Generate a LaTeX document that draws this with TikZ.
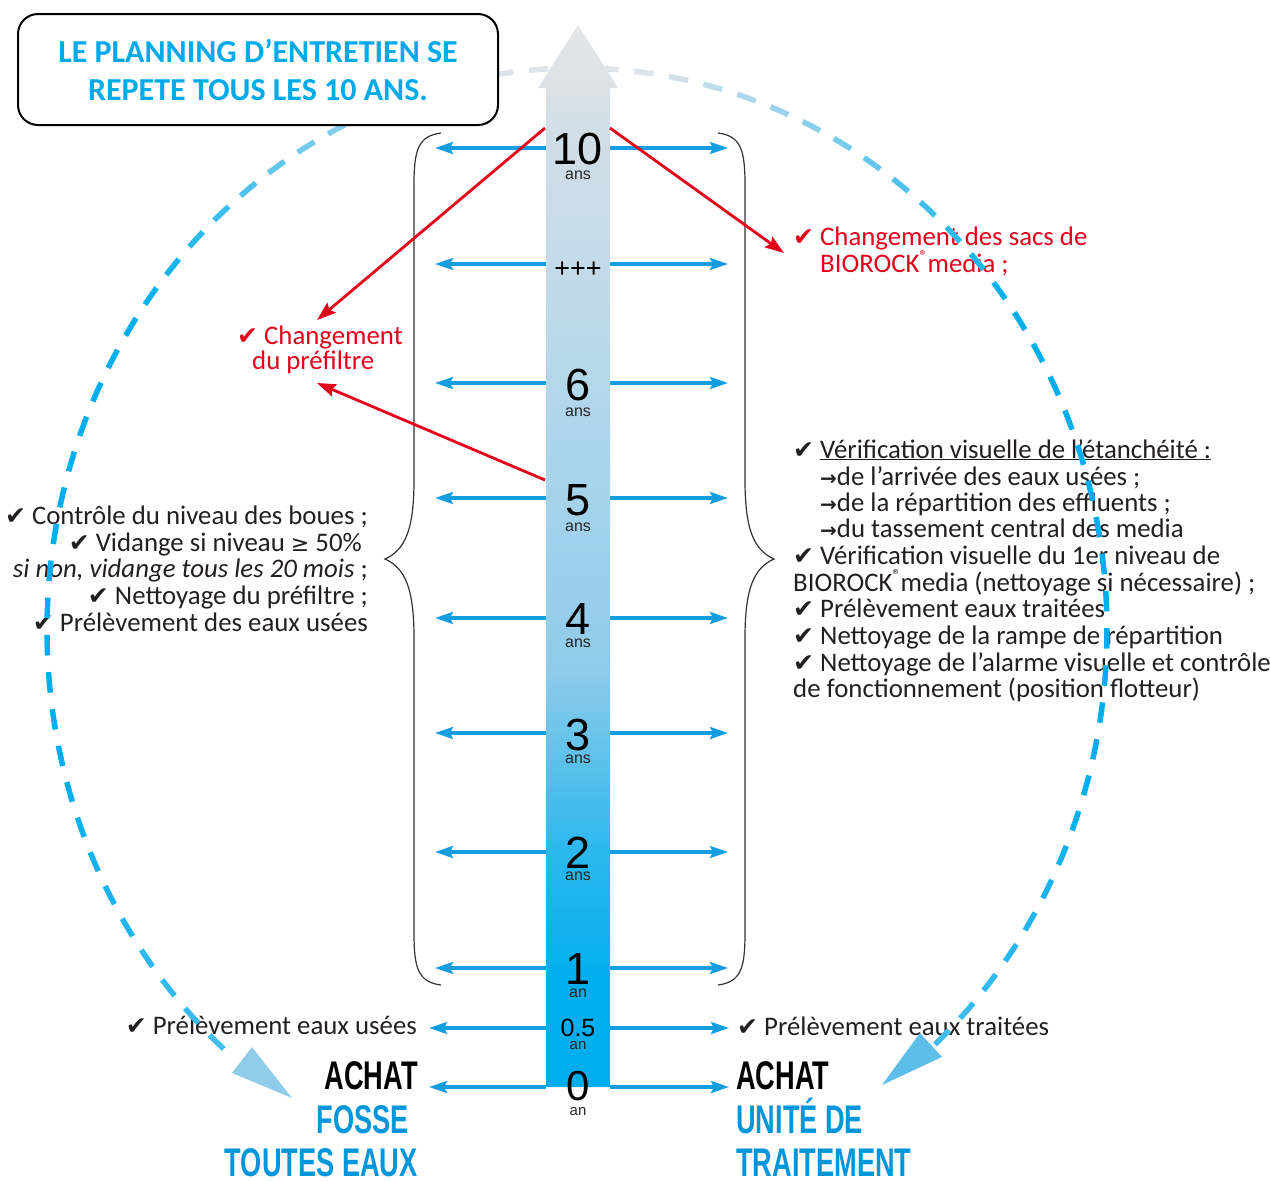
\documentclass[tikz,border=0pt]{standalone}
\usepackage{fontspec}
\setmainfont{Carlito}
\newfontfamily\dv{DejaVu Sans}
\newfontfamily\hv{Liberation Sans}
\newfontfamily\cond[FakeStretch=0.68]{Liberation Sans Bold}
\usetikzlibrary{arrows.meta}
\definecolor{hblue}{RGB}{20,158,224}
\definecolor{rred}{RGB}{226,0,26}
\definecolor{tblue}{RGB}{0,150,219}
\definecolor{ttl}{RGB}{0,170,233}
\definecolor{txtc}{RGB}{35,31,32}
\definecolor{cy}{RGB}{0,174,239}
\definecolor{gr}{RGB}{222,228,233}
\definecolor{lb}{RGB}{140,203,234}
\definecolor{lhead}{RGB}{143,204,234}
\definecolor{rhead}{RGB}{93,190,234}
\definecolor{s0}{RGB}{0,174,239}
\definecolor{s1}{RGB}{45,184,237}
\definecolor{s2}{RGB}{142,203,234}
\definecolor{s3}{RGB}{165,211,236}
\definecolor{s4}{RGB}{195,219,233}
\definecolor{s5}{RGB}{207,221,231}
\definecolor{s6}{RGB}{229,230,231}
\pgfdeclareverticalshading{barsh}{100bp}{color(0bp)=(s0); color(25bp)=(s0); color(30bp)=(s0); color(36.2bp)=(s1); color(44.6bp)=(s2); color(52.6bp)=(s3); color(63.5bp)=(s4); color(69.1bp)=(s5); color(75bp)=(s6); color(100bp)=(s6)}
\newcommand\chk{{\dv\fontsize{25}{25}\selectfont ✔}}
\newcommand\arr{{\dv\bfseries\fontsize{20}{20}\selectfont →}}
\newcommand\regm{\raisebox{0.38em}{\fontsize{16}{16}\selectfont ®}}
\begin{document}
\begin{tikzpicture}[x=1pt,y=-1pt,
  txt/.style={inner sep=0pt, text=txtc, font=\fontsize{26.8}{28}\selectfont},
  redtxt/.style={inner sep=0pt, text=rred, font=\fontsize{26.8}{28}\selectfont},
  num/.style={inner sep=0pt, text=black, text depth=0pt, font=\hv\fontsize{45}{45}\selectfont, anchor=base},
  ansl/.style={inner sep=0pt, text=black!85, text height=8pt, text depth=0pt, font=\hv\fontsize{16}{16}\selectfont, anchor=base},
  harrow/.style={draw=hblue, line width=3.2pt, -{Stealth[length=18pt,width=12pt,inset=3pt]}},
  rarrow/.style={draw=rred, line width=2.8pt, -{Stealth[length=19pt,width=13pt,inset=3pt]}},
  bracep/.style={draw=black!80, line width=1.2pt},
  big/.style={inner sep=0pt, text depth=0pt, font=\cond\fontsize{40}{40}\selectfont},
  titlebox/.style={draw=black, line width=2pt, rounded corners=20pt, fill=white,
    minimum width=480pt, minimum height=111pt, align=center, text=ttl,
    font=\bfseries\fontsize{32}{38}\selectfont},
]
\useasboundingbox (0,0) rectangle (1270,1181);

% horizontal blue arrows
\foreach \i/\y/\lt/\rt in {10/148/435/728, p/264/435/728, 6/383/435/728, 5/498/435/728, 4/618/435/728, 3/733/435/728, 2/852/435/728, 1/968/435/728, h/1028/429/729, 0/1087/429/729}{
  \coordinate (bl\i) at (546,\y);
  \coordinate (tl\i) at (\lt,\y);
  \coordinate (br\i) at (610,\y);
  \coordinate (tr\i) at (\rt,\y);
  \draw[harrow] (bl\i) -- (tl\i);
  \draw[harrow] (br\i) -- (tr\i);
}

% central bar
\shade[shading=barsh] (546,1087) -- (546,88) -- (538,88) -- (578,25) -- (618,88) -- (610,88) -- (610,1087) -- cycle;

% numbers
\node[num] (n10) at (578,164) {10};
\node[ansl] (a10) at (578,179) {ans};
\node[inner sep=0pt, font=\hv\fontsize{27}{27}\selectfont, anchor=base] (npp) at (578,277) {+++};
\node[num] (n6) at (578,400) {6};
\node[ansl] (a6) at (578,416) {ans};
\node[num] (n5) at (578,515) {5};
\node[ansl] (a5) at (578,531) {ans};
\node[num] (n4) at (578,634) {4};
\node[ansl] (a4) at (578,647) {ans};
\node[num] (n3) at (578,750) {3};
\node[ansl] (a3) at (578,763) {ans};
\node[num] (n2) at (578,868) {2};
\node[ansl] (a2) at (578,880) {ans};
\node[num] (n1) at (578,984) {1};
\node[ansl] (a1) at (578,997) {an};
\node[inner sep=0pt, text depth=0pt, font=\hv\fontsize{25}{25}\selectfont, anchor=base] (nh) at (578,1036) {0.5};
\node[ansl, font=\hv\fontsize{15}{15}\selectfont] (ah) at (578,1049) {an};
\node[num, font=\hv\fontsize{42}{42}\selectfont] (n0) at (578,1100) {0};
\node[ansl, font=\hv\fontsize{15}{15}\selectfont] (a0) at (578,1115) {an};

% braces
\draw[bracep] (441,133) .. controls (418,136) and (414,150) .. (414,185) -- (414,480)
  .. controls (414,530) and (405,550) .. (385,559) .. controls (405,568) and (414,588) .. (414,638)
  -- (414,933) .. controls (414,968) and (418,982) .. (441,985);
\draw[bracep] (718,133) .. controls (741,136) and (745,150) .. (745,185) -- (745,480)
  .. controls (745,530) and (754,550) .. (774,559) .. controls (754,568) and (745,588) .. (745,638)
  -- (745,933) .. controls (745,968) and (741,982) .. (718,985);

% left text block
\node[txt, anchor=base east] (l1) at (368,524) {\chk\ Contrôle du niveau des boues ;};
\node[txt, anchor=base east] (l2) at (362,551) {\chk\ Vidange si niveau {\dv\fontsize{22}{22}\selectfont ≥} 50\%};
\node[txt, anchor=base east] (l3) at (368,577) {\textit{si non, vidange tous les 20 mois} ;};
\node[txt, anchor=base east] (l4) at (368,604) {\chk\ Nettoyage du préfiltre ;};
\node[txt, anchor=base east] (l5) at (368,631) {\chk\ Prélèvement des eaux usées};

% right text block
\node[txt, anchor=base west] (r1) at (793,458) {\chk\ \underline{Vérification visuelle de l’étanchéité :}};
\node[txt, anchor=base west] (r2) at (820,485) {\arr de l’arrivée des eaux usées ;};
\node[txt, anchor=base west] (r3) at (820,511) {\arr de la répartition des effluents ;};
\node[txt, anchor=base west] (r4) at (820,537) {\arr du tassement central des media};
\node[txt, anchor=base west] (r5) at (793,564) {\chk\ Vérification visuelle du 1er niveau de};
\node[txt, anchor=base west] (r6) at (793,591) {BIOROCK\regm media (nettoyage si nécessaire) ;};
\node[txt, anchor=base west] (r7) at (793,617) {\chk\ Prélèvement eaux traitées};
\node[txt, anchor=base west] (r8) at (793,644) {\chk\ Nettoyage de la rampe de répartition};
\node[txt, anchor=base west] (r9) at (793,671) {\chk\ Nettoyage de l'alarme visuelle et contrôle};
\node[txt, anchor=base west] (r10) at (793,697) {de fonctionnement (position flotteur)};

% red texts
\node[redtxt, anchor=base west] (c1) at (793,245) {\chk\ Changement des sacs de};
\node[redtxt, anchor=base west] (c2) at (820,272) {BIOROCK\regm media ;};
\node[redtxt, anchor=base west] (p1) at (237,344) {\chk\ Changement};
\node[redtxt, anchor=base west] (p2) at (252,369) {du préfiltre};

% bottom texts
\node[txt, anchor=base east] (b1) at (417,1034) {\chk\ Prélèvement eaux usées};
\node[txt, anchor=base west] (b2) at (737,1035) {\chk\ Prélèvement eaux traitées};
\node[big, anchor=base east, text=black] (ach1) at (418,1089) {ACHAT};
\node[big, anchor=base east, text=tblue] (fos) at (409,1133) {FOSSE};
\node[big, anchor=base east, text=tblue] (tou) at (418,1176) {TOUTES EAUX};
\node[big, anchor=base west, text=black] (ach2) at (736,1089) {ACHAT};
\node[big, anchor=base west, text=tblue] (uni) at (736,1133) {UNITÉ DE};
\node[big, anchor=base west, text=tblue] (tra) at (736,1176) {TRAITEMENT};

% red arrows
\coordinate (ra1) at (545,128); \coordinate (ra1e) at (317,320);
\coordinate (ra2) at (545,480); \coordinate (ra2e) at (317,383);
\coordinate (ra3) at (610,128); \coordinate (ra3e) at (784,253);
\draw[rarrow] (ra1) -- (ra1e);
\draw[rarrow] (ra2) -- (ra2e);
\draw[rarrow] (ra3) -- (ra3e);

% dashed elliptic cycle
\foreach \a in {-47.5,-43.7,...,227}{
  \pgfmathsetmacro\dd{abs(\a+1.05-90)}
  \pgfmathsetmacro\pp{max(0,min(100,(\dd-8)*100/47))}
  \pgfmathsetmacro\rr{100-max(0,min(60,(\dd-105)*60/40))}
  \draw[line width=5.5pt, color=cy!\pp!gr!\rr!lb] plot[domain=\a:\a+2.1, samples=4, variable=\t] ({577+530*cos(\t)},{630-562*sin(\t)});
}
\fill[lhead] (232,1073) -- (292,1098) -- (252,1047) -- cycle;
\fill[rhead] (920,1033) -- (882,1085) -- (942,1057) -- cycle;

% title box
\node[titlebox] (title) at (258,69.5) {LE PLANNING D’ENTRETIEN SE\\REPETE TOUS LES 10 ANS.};
\end{tikzpicture}
\end{document}
